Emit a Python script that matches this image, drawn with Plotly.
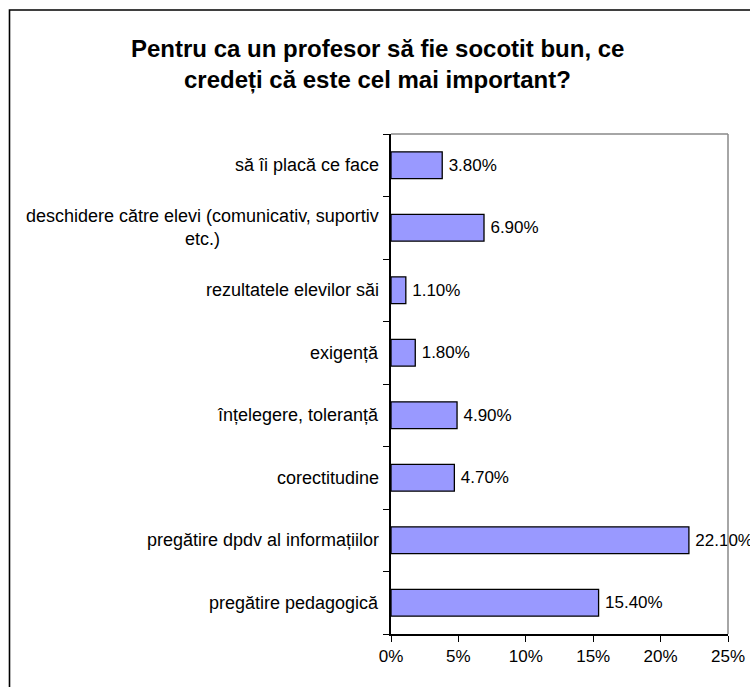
import plotly.graph_objects as go

categories = [
    "pregătire pedagogică",
    "pregătire dpdv al informațiilor",
    "corectitudine",
    "înțelegere, toleranță",
    "exigență",
    "rezultatele elevilor săi",
    "deschidere către elevi (comunicativ, suportiv<br>etc.)",
    "să îi placă ce face",
]
values = [15.4, 22.1, 4.7, 4.9, 1.8, 1.1, 6.9, 3.8]
x_ticks = [0, 5, 10, 15, 20, 25]
title_lines = [
    "Pentru ca un profesor să fie socotit bun, ce",
    "credeți că este cel mai important?",
]

FONT = "Liberation Sans, Arial, sans-serif"
W, H = 750, 687
L, R, T, B = 391, 22, 134, 53
pw, ph = W - L - R, H - T - B


def px_x(p):
    return (p - L) / pw


def px_y(p):
    return (H - B - p) / ph


fig = go.Figure()
fig.add_trace(go.Bar(
    y=categories,
    x=values,
    orientation="h",
    marker=dict(color="#9999FF", line=dict(color="#000000", width=1.3)),
    text=[f"\u2009{v:.2f}%" for v in values],
    textposition="outside",
    textfont=dict(family=FONT, size=17, color="#000000"),
    cliponaxis=False,
    hoverinfo="skip",
))

annotations = []
for c in categories:
    annotations.append(dict(
        x=0, xref="paper", y=c, yref="y", text=c, showarrow=False,
        xanchor="right", yanchor="middle", align="center", xshift=-10,
        font=dict(family=FONT, size=18, color="#000000"),
    ))
for line, ypx in zip(title_lines, [48, 80]):
    annotations.append(dict(
        x=px_x(377), xref="paper", y=px_y(ypx), yref="paper",
        text=line, showarrow=False,
        xanchor="center", yanchor="middle", align="center",
        font=dict(family=FONT, size=24, color="#000000", weight="bold"),
    ))

shapes = [
    # outer frame
    dict(type="rect", xref="paper", yref="paper",
         x0=px_x(9.5), x1=px_x(770), y0=px_y(705), y1=px_y(10),
         line=dict(color="#000000", width=1.6)),
    # top and right plot border (gray)
    dict(type="line", xref="paper", yref="paper", x0=0, x1=1, y0=1, y1=1,
         line=dict(color="#888888", width=1.5)),
    dict(type="line", xref="paper", yref="paper", x0=1, x1=1, y0=0, y1=1,
         line=dict(color="#888888", width=1.5)),
]

fig.update_layout(
    template="none",
    width=W, height=H, autosize=False,
    margin=dict(l=L, r=R, t=T, b=B, pad=0, autoexpand=False),
    paper_bgcolor="#FFFFFF", plot_bgcolor="#FFFFFF",
    showlegend=False,
    bargap=0.57,
    annotations=annotations,
    shapes=shapes,
    font=dict(family=FONT, size=17, color="#000000"),
    xaxis=dict(
        range=[0, 25], tickvals=x_ticks, ticktext=[f"{t}%" for t in x_ticks],
        showgrid=False, zeroline=False, automargin=False,
        showline=True, linecolor="#000000", linewidth=1.5,
        ticks="outside", ticklen=6, tickcolor="#000000", tickwidth=1.3,
        tickfont=dict(family=FONT, size=17, color="#000000"),
        fixedrange=True,
    ),
    yaxis=dict(
        type="category", categoryorder="array", categoryarray=categories,
        showticklabels=False, showgrid=False, zeroline=False, automargin=False,
        showline=True, linecolor="#000000", linewidth=1.5,
        ticks="outside", tickson="boundaries", ticklen=6,
        tickcolor="#000000", tickwidth=1.3,
        fixedrange=True,
    ),
)

fig.write_html(
    "out.html",
    config={"displayModeBar": False},
    post_script="document.body.style.margin='0';document.body.style.overflow='hidden';",
)
